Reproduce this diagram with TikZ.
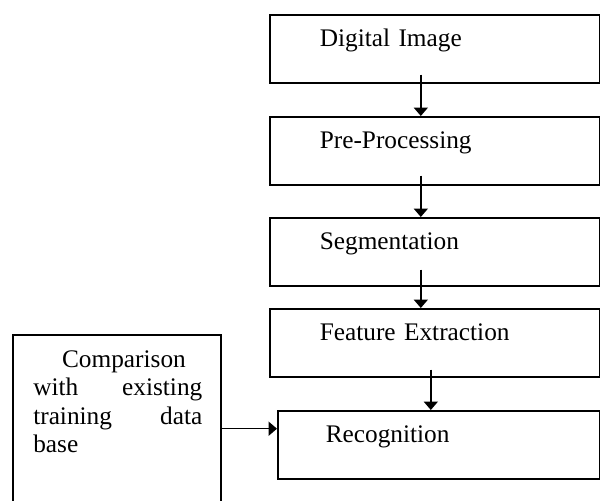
\documentclass[tikz,border=0pt]{standalone}
\usepackage{fontspec}
\setmainfont{Liberation Serif}
\usepackage{tikz}
\usetikzlibrary{positioning, arrows.meta, calc}

\tikzset{
    stage/.style={draw, line width=1.1pt, anchor=north west, minimum width=8.25cm, minimum height=1.7cm,
        text width=5.75cm, inner xsep=1.25cm, align=left, text height=0.35cm, text depth=0.45cm,
        font=\fontsize{18}{20}\selectfont},
    flow/.style={->, line width=1.1pt}
}

\begin{document}
\begin{tikzpicture}[>={Triangle[width=10pt, length=6pt]}, x=0.025cm, y=-0.025cm]
\useasboundingbox (0,0) rectangle (600,501);
% pipeline stages
\node[stage] (img)  at (269,14)  {Digital Image};
\node[stage] (pre)  at (269,116) {Pre-Processing};
\node[stage] (seg)  at (269,217) {Segmentation};
\node[stage] (feat) at (269,308) {Feature Extraction};
\node[stage, minimum width=8.05cm, text width=5.65cm, inner xsep=1.2cm] (rec) at (277,410) {Recognition};
% training data box, cut off at the bottom
\node[draw, line width=1.1pt, anchor=north west, minimum width=5.2cm, minimum height=4.275cm] (cmp) at (12,334) {};
\node[anchor=north west, text width=4.225cm, inner xsep=0.525cm, inner ysep=0.42cm, align=left,
    font=\fontsize{18}{20}\selectfont] (cmptxt) at (cmp.north west)
    {\hspace*{0.72cm}Comparison\\ with\hfill existing\\ training\hfill data\\ base};

\draw[flow] ([xshift=-0.35cm, yshift=0.225cm]img.south) coordinate (a0) -- (a0 |- pre.north);
\draw[flow] ([xshift=-0.35cm, yshift=0.25cm]pre.south) coordinate (a1) -- (a1 |- seg.north);
\draw[flow] ([xshift=-0.35cm, yshift=0.425cm]seg.south) coordinate (a2) -- (a2 |- feat.north);
\draw[flow] ([xshift=-0.1cm, yshift=0.2cm]feat.south) coordinate (a3) -- (a3 |- rec.north);
\draw[flow] ([yshift=-0.21cm]cmp.east) coordinate (c0) -- (c0 -| rec.west);
\end{tikzpicture}
\end{document}
